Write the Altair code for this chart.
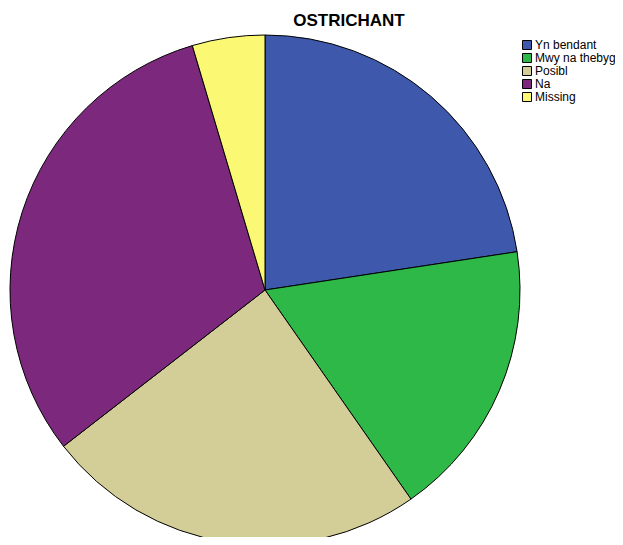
import altair as alt
import pandas as pd

categories = ["Yn bendant", "Mwy na thebyg", "Posibl", "Na", "Missing"]
values = [22.6, 17.7, 24.2, 30.9, 4.6]
colors = ["#3E58AC", "#2EB848", "#D3CE97", "#7C287D", "#FBF873"]

df = pd.DataFrame({"cat": categories, "val": values, "ord": list(range(len(categories)))})

pie = alt.Chart(df).mark_arc(stroke="black", strokeWidth=1, radius=255).encode(
    theta=alt.Theta("val:Q", stack=True),
    order=alt.Order("ord:Q"),
    color=alt.Color(
        "cat:N",
        sort=categories,
        scale=alt.Scale(domain=categories, range=colors),
        legend=alt.Legend(
            title=None,
            orient="none",
            legendX=513,
            legendY=31,
            symbolType="square",
            symbolSize=81,
            symbolStrokeColor="black",
            symbolStrokeWidth=1,
            labelFont="Liberation Sans",
            labelFontSize=12,
            labelColor="black",
            labelLimit=200,
            rowPadding=-2,
            symbolOffset=0,
            labelOffset=2,
        ),
    ),
    x=alt.value(257),
    y=alt.value(282),
)

title = alt.Chart(pd.DataFrame({"t": ["OSTRICHANT"]})).mark_text(
    font="Liberation Sans", fontWeight="bold", fontSize=17, color="black", baseline="alphabetic"
).encode(text="t:N", x=alt.value(341), y=alt.value(18))

chart = alt.layer(pie, title).properties(
    width=607, height=529, autosize=alt.AutoSizeParams(type="none"), padding=0, background="white"
).configure_view(stroke=None)

chart.save("out.html", embed_options={"renderer": "svg", "actions": False})
